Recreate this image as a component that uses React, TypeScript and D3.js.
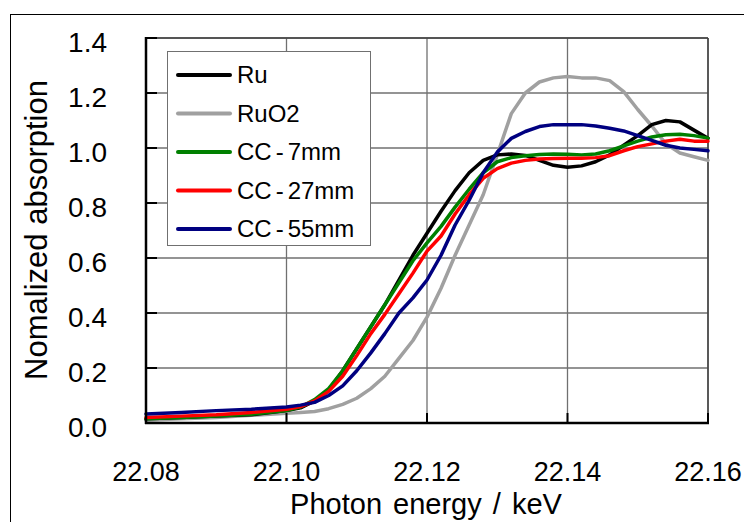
import { useMemo } from 'react'
import * as d3 from 'd3'

const W = 744
const H = 522
const PLOT = { left: 146, right: 708, top: 38, bottom: 423 }
const FONT = '"Liberation Sans", Arial, sans-serif'

// Photon energy grid (keV)
const ENERGY = [
  22.080, 22.085, 22.090, 22.095, 22.100, 22.102, 22.104, 22.106, 22.108, 22.110,
  22.112, 22.114, 22.116, 22.118, 22.120, 22.122, 22.124, 22.126, 22.128, 22.130,
  22.132, 22.134, 22.136, 22.138, 22.140, 22.142, 22.144, 22.146, 22.148, 22.150,
  22.152, 22.154, 22.156, 22.158, 22.160
]

const RU = [
  0.015, 0.02, 0.025, 0.03, 0.045, 0.055, 0.08, 0.12, 0.19, 0.27,
  0.35, 0.43, 0.52, 0.61, 0.69, 0.77, 0.845, 0.91, 0.955, 0.975,
  0.978, 0.973, 0.955, 0.937, 0.93, 0.935, 0.95, 0.975, 1.01, 1.045,
  1.085, 1.10, 1.095, 1.065, 1.035
]

const RUO2 = [
  0.01, 0.015, 0.02, 0.028, 0.035, 0.038, 0.042, 0.052, 0.068, 0.09,
  0.125, 0.17, 0.235, 0.30, 0.385, 0.49, 0.61, 0.72, 0.83, 0.975,
  1.125, 1.20, 1.24, 1.255, 1.26, 1.255, 1.255, 1.245, 1.205, 1.14,
  1.08, 1.015, 0.982, 0.968, 0.955
]

const CC7 = [
  0.015, 0.02, 0.025, 0.032, 0.045, 0.058, 0.085, 0.125, 0.19, 0.27,
  0.35, 0.43, 0.51, 0.59, 0.655, 0.715, 0.785, 0.85, 0.91, 0.95,
  0.965, 0.972, 0.976, 0.978, 0.977, 0.975, 0.978, 0.99, 1.008, 1.025,
  1.04, 1.048, 1.05, 1.045, 1.036
]

const CC27 = [
  0.02, 0.025, 0.03, 0.038, 0.05, 0.06, 0.08, 0.115, 0.17, 0.245,
  0.325, 0.395, 0.47, 0.545, 0.625, 0.68, 0.76, 0.83, 0.89, 0.925,
  0.945, 0.955, 0.96, 0.962, 0.963, 0.963, 0.965, 0.972, 0.99, 1.005,
  1.015, 1.025, 1.032, 1.025, 1.025
]

const CC55 = [
  0.033, 0.038, 0.045, 0.05, 0.058, 0.065, 0.075, 0.10, 0.135, 0.19,
  0.255, 0.325, 0.40, 0.455, 0.52, 0.61, 0.72, 0.81, 0.91, 0.985,
  1.035, 1.06, 1.078, 1.085, 1.085, 1.085, 1.08, 1.072, 1.062, 1.045,
  1.028, 1.01, 1.0, 0.995, 0.99
]

const X_TICKS = [22.08, 22.10, 22.12, 22.14, 22.16]
const Y_TICKS = [0, 0.2, 0.4, 0.6, 0.8, 1.0, 1.2, 1.4]

// legend order (top to bottom); label parts split around the hyphen
const SERIES = [
  { name: 'Ru', parts: ['Ru'], values: RU, color: '#000000' },
  { name: 'RuO2', parts: ['RuO2'], values: RUO2, color: '#a0a0a0' },
  { name: 'CC-7mm', parts: ['CC', '-', '7mm'], values: CC7, color: '#008000' },
  { name: 'CC-27mm', parts: ['CC', '-', '27mm'], values: CC27, color: '#ff0000' },
  { name: 'CC-55mm', parts: ['CC', '-', '55mm'], values: CC55, color: '#000080' }
]

// drawing order: grey reference behind the rest
const DRAW_ORDER = ['RuO2', 'Ru', 'CC-7mm', 'CC-27mm', 'CC-55mm']

export default function App() {
  const x = useMemo(() => d3.scaleLinear().domain([22.08, 22.16]).range([PLOT.left, PLOT.right]), [])
  const y = useMemo(() => d3.scaleLinear().domain([0, 1.4]).range([PLOT.bottom, PLOT.top]), [])

  const line = d3.line<[number, number]>()
    .x(d => x(d[0]))
    .y(d => y(d[1]))
    .curve(d3.curveLinear)

  const legend = { x: 167, y: 51, w: 203, h: 194, rowGap: 38.5 }

  return (
    <div style={{ position: 'absolute', left: 0, top: 0 }}>
      <svg width={W} height={H} style={{ display: 'block', background: '#fff' }}>
        {/* outer frame */}
        <line x1={10} x2={W} y1={14.5} y2={14.5} stroke="#000" strokeWidth={1} />
        <line x1={10.5} x2={10.5} y1={14} y2={H} stroke="#000" strokeWidth={1} />

        {/* grid */}
        {Y_TICKS.map(t => (
          <line key={`hg-${t}`} x1={PLOT.left} x2={PLOT.right} y1={y(t)} y2={y(t)}
            stroke="#707070" strokeWidth={1.3} />
        ))}
        {X_TICKS.map(t => (
          <line key={`vg-${t}`} x1={x(t)} x2={x(t)} y1={PLOT.top} y2={PLOT.bottom}
            stroke="#707070" strokeWidth={1.3} />
        ))}

        {/* plot border */}
        <line x1={PLOT.left} x2={PLOT.right} y1={PLOT.top} y2={PLOT.top} stroke="#404040" strokeWidth={1.5} />
        <line x1={PLOT.right} x2={PLOT.right} y1={PLOT.top} y2={PLOT.bottom} stroke="#404040" strokeWidth={1.5} />

        {/* series */}
        {DRAW_ORDER.map(name => {
          const s = SERIES.find(d => d.name === name)!
          const pts = ENERGY.map((e, i) => [e, s.values[i]] as [number, number])
          return (
            <path key={name} d={line(pts) ?? ''} fill="none" stroke={s.color}
              strokeWidth={3.5} strokeLinejoin="round" strokeLinecap="round" />
          )
        })}

        {/* axes */}
        <line x1={PLOT.left} x2={PLOT.left} y1={PLOT.top - 1} y2={PLOT.bottom + 1} stroke="#000" strokeWidth={2.5} />
        <line x1={PLOT.left - 1} x2={PLOT.right + 1} y1={PLOT.bottom} y2={PLOT.bottom} stroke="#000" strokeWidth={2.5} />
        {Y_TICKS.map(t => (
          <g key={`yt-${t}`}>
            <line x1={PLOT.left} x2={PLOT.left + 11} y1={y(t)} y2={y(t)} stroke="#000" strokeWidth={2} />
            <text x={107} y={y(t) + 14} textAnchor="end" fontFamily={FONT} fontSize={28} fill="#000">
              {d3.format('.1f')(t)}
            </text>
          </g>
        ))}
        {X_TICKS.map(t => (
          <g key={`xt-${t}`}>
            <line x1={x(t)} x2={x(t)} y1={PLOT.bottom} y2={PLOT.bottom - 10} stroke="#000" strokeWidth={2} />
            <text x={x(t)} y={481} textAnchor="middle" fontFamily={FONT} fontSize={27} fill="#000">
              {d3.format('.2f')(t)}
            </text>
          </g>
        ))}

        {/* axis titles */}
        <text x={426} y={514} textAnchor="middle" fontFamily={FONT} fontSize={29} fill="#000"
          wordSpacing={3}>
          Photon energy / keV
        </text>
        <text transform="translate(47,230) rotate(-90)" textAnchor="middle" fontFamily={FONT} fontSize={31} fill="#000">
          Nomalized absorption
        </text>

        {/* legend */}
        <rect x={legend.x + 0.5} y={legend.y + 0.5} width={legend.w} height={legend.h}
          fill="#fff" stroke="#707070" strokeWidth={1} />
        {SERIES.map((s, i) => {
          const cy = 75 + i * legend.rowGap
          return (
            <g key={`lg-${s.name}`}>
              <line x1={178} x2={230} y1={cy} y2={cy} stroke={s.color} strokeWidth={4} strokeLinecap="round" />
              <text x={237} y={cy + 8} fontFamily={FONT} fontSize={24} fill="#000">
                {s.parts.map((p, j) => (
                  <tspan key={j} dx={j === 0 ? 0 : 4}>{p}</tspan>
                ))}
              </text>
            </g>
          )
        })}
      </svg>
    </div>
  )
}
